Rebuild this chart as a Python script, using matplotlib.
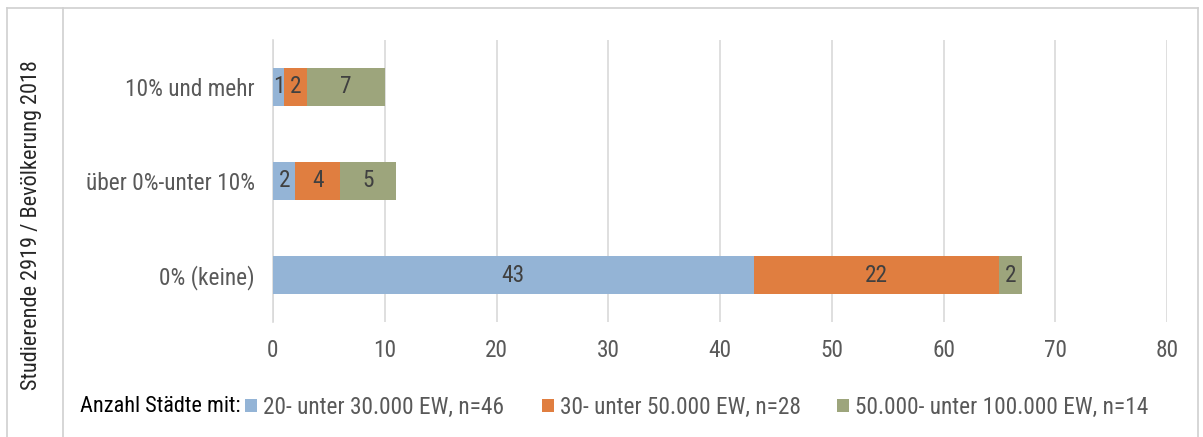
import matplotlib
matplotlib.use("Agg")
import matplotlib.pyplot as plt
from matplotlib.lines import Line2D
import numpy as np

plt.rcParams['font.family'] = ['Roboto Condensed', 'Liberation Sans', 'DejaVu Sans']

categories = ["0% (keine)", "über 0%-unter 10%", "10% und mehr"]
series_names = ["20- unter 30.000 EW, n=46",
                "30- unter 50.000 EW, n=28",
                "50.000- unter 100.000 EW, n=14"]
small = [43, 2, 1]
medium = [22, 4, 2]
large = [2, 5, 7]
xticks = [0, 10, 20, 30, 40, 50, 60, 70, 80]

colors = ["#94B4D6", "#E07E40", "#9DA57C"]
text_gray = "#595959"
fs = 16.8

W, H = 1203, 437
fig = plt.figure(figsize=(W / 100, H / 100), dpi=100)
ax = fig.add_axes([273 / W, 1 - 322 / H, (1167 - 273) / W, (322 - 40) / H])

y = np.arange(len(categories))
left = np.zeros(len(categories))
containers = []
for vals, col, name in zip([small, medium, large], colors, series_names):
    bc = ax.barh(y, vals, left=left, height=0.4, color=col, label=name, zorder=3)
    ax.bar_label(bc, labels=[str(v) for v in vals], label_type="center",
                 fontsize=fs, color="#404040")
    containers.append(bc)
    left = left + np.array(vals)

ax.set_xlim(0, 80)
ax.set_ylim(-0.5, 2.5)
ax.set_xticks(xticks)
ax.set_yticks(y)
ax.set_yticklabels(categories)
ax.tick_params(axis="both", length=0, labelsize=fs, colors=text_gray)
ax.tick_params(axis="x", pad=12)
ax.tick_params(axis="y", pad=13)
ax.grid(axis="x", color="#D9D9D9", linewidth=1.2, zorder=0)
for s in ["top", "right", "bottom"]:
    ax.spines[s].set_visible(False)
ax.spines["left"].set_color("#D9D9D9")
ax.spines["left"].set_linewidth(1.2)

# frame around the chart and the separate title column
frame_col = "#D0D0D0"
fig.add_artist(Line2D([7 / W, 1198 / W], [1 - 8 / H, 1 - 8 / H], color=frame_col, lw=1.2))
fig.add_artist(Line2D([7 / W, 7 / W], [0, 1 - 8 / H], color=frame_col, lw=1.2))
fig.add_artist(Line2D([1198 / W, 1198 / W], [0, 1 - 8 / H], color=frame_col, lw=1.2))
fig.add_artist(Line2D([63 / W, 63 / W], [0, 1 - 8 / H], color=frame_col, lw=1.2))

fig.text(32 / W, 1 - 225 / H, "Studierende 2919 / Bevölkerung 2018", rotation=90,
         ha="center", va="center", fontsize=16, color="#262626")

fig.text(80 / W, 1 - 407 / H, "Anzahl Städte mit:", ha="left", va="center",
         fontsize=16, color="#000000")

# one legend entry per series, each at its own horizontal position
legend_x = [245, 542, 837]
for bc, name, lx in zip(containers, series_names, legend_x):
    fig.legend(handles=[bc], labels=[name], loc="center left",
               bbox_to_anchor=(lx / W, 1 - 407 / H), frameon=False,
               fontsize=fs, labelcolor=text_gray, handlelength=0.5, handleheight=0.5,
               handletextpad=0.27, borderpad=0, borderaxespad=0)

fig.savefig("out.png", dpi=100)
